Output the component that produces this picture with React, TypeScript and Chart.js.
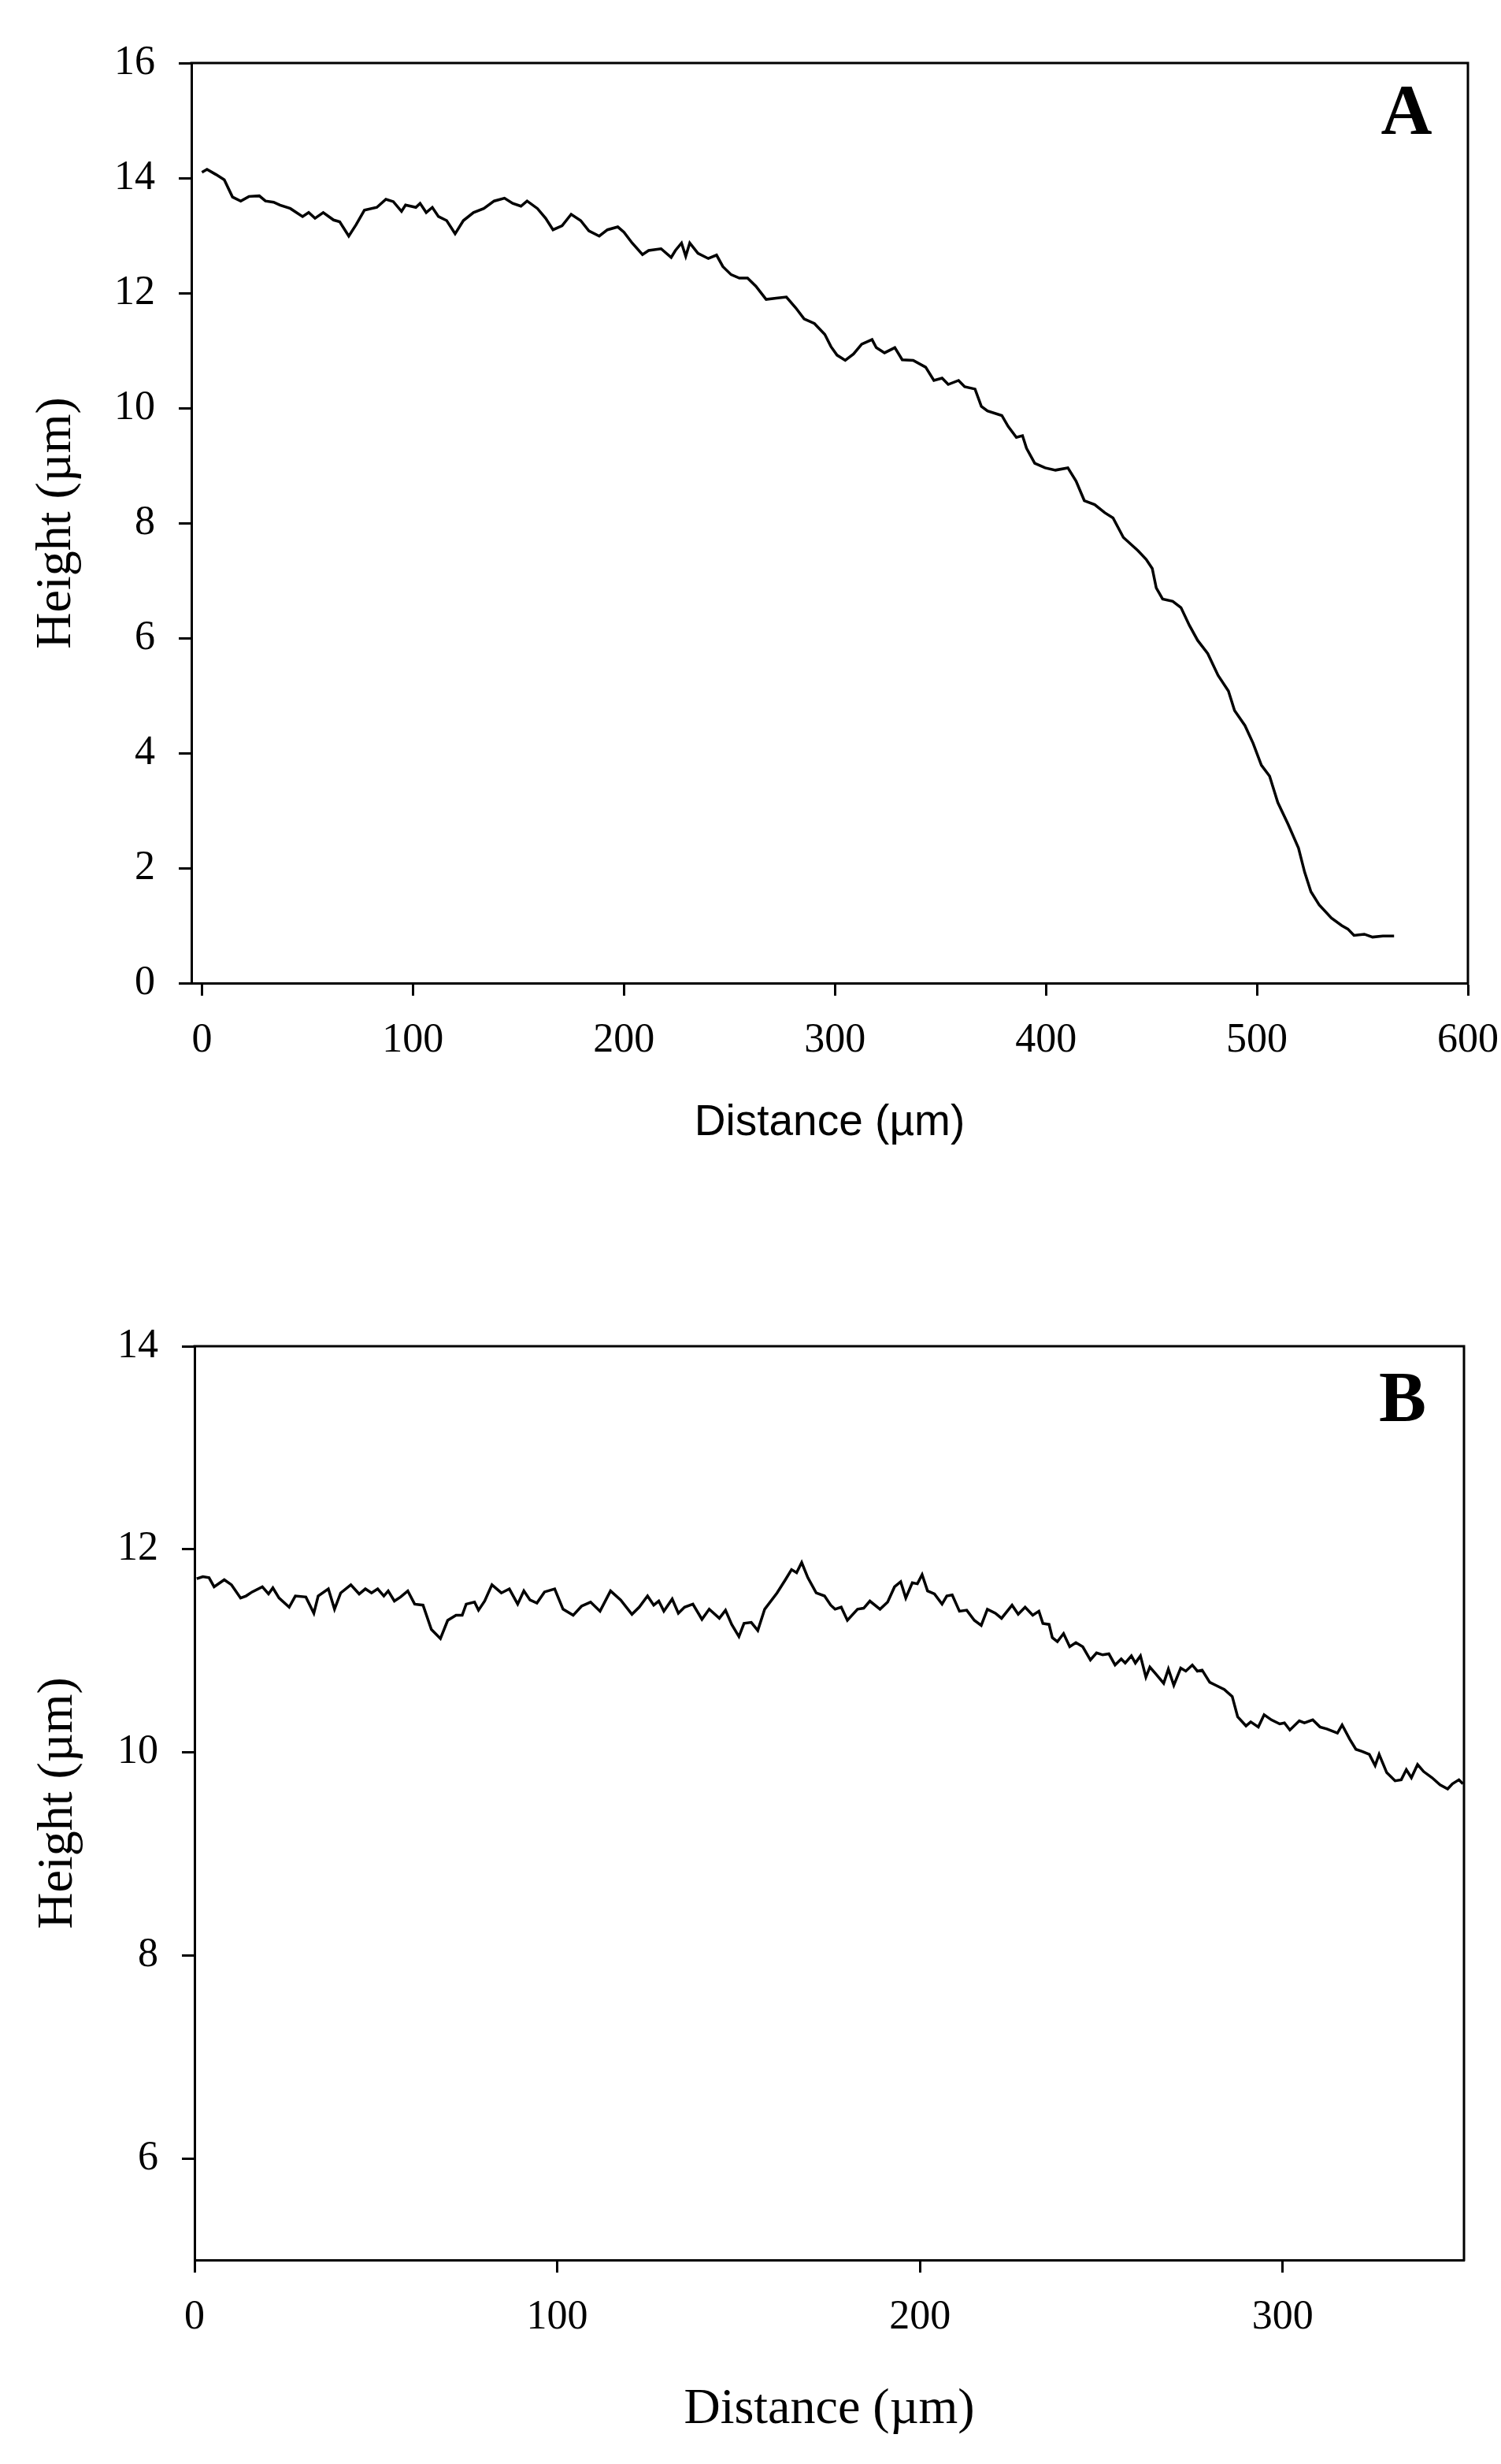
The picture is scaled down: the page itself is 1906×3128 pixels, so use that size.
import { useEffect, useRef } from "react";
import { Chart, registerables } from "chart.js";

Chart.register(...registerables);

// Panel A: profile across the edge
const distA = [
  0, 2.4, 6.7, 10.6, 14.5, 18.4, 22.3, 27.2, 30.1, 34, 37, 41.9, 47.7, 50.6, 53.6, 57.5, 62.4, 65.3,
  69.6, 73.1, 77, 82.9, 87.2, 90.7, 94.6, 96.5, 101.4, 103.4, 106.3, 109.2, 112.1, 116, 120, 123.9,
  128.7, 133.6, 138.5, 143.4, 147.3, 151.2, 154.1, 159, 162.9, 166.4, 170.7, 175, 179.5, 183.4, 188.3,
  192.2, 197.1, 200, 203.9, 208.8, 211.7, 217.6, 222.4, 224.4, 227.3, 229.3, 231.2, 235.1, 240, 243.9,
  246.9, 250.8, 254.7, 258.6, 262.5, 267.4, 272.2, 277, 281.5, 285.4, 290.3, 295.2, 298.1, 301, 304.9,
  308.8, 312.7, 317.6, 319.6, 323.5, 328.4, 331.9, 337.1, 343, 346.9, 350.8, 353.7, 358.6, 361.5,
  366.4, 369.4, 372.3, 379.1, 382.1, 386, 388.9, 390.8, 394.7, 399.6, 404.5, 410.4, 414.3, 418.2,
  423.1, 427.9, 431.8, 436.7, 443.6, 447.5, 450.4, 452.3, 455.3, 460.1, 464, 468, 471.9, 476.7, 481.6,
  486.5, 489.4, 494.3, 498.2, 502.1, 506, 509.9, 514.8, 519.7, 522.6, 525.6, 529.5, 535.3, 540.2,
  543.1, 546, 550.9, 554.8, 559.7, 565,
];
const heightA = [
  14.1, 14.15, 14.06, 13.97, 13.67, 13.6, 13.68, 13.69, 13.6, 13.58, 13.53, 13.47, 13.33, 13.4, 13.3,
  13.4, 13.27, 13.24, 12.99, 13.19, 13.44, 13.49, 13.63, 13.59, 13.42, 13.53, 13.49, 13.56, 13.4,
  13.49, 13.33, 13.26, 13.03, 13.26, 13.4, 13.47, 13.6, 13.65, 13.56, 13.51, 13.6, 13.47, 13.3, 13.1,
  13.17, 13.37, 13.26, 13.08, 12.99, 13.1, 13.15, 13.06, 12.87, 12.67, 12.74, 12.77, 12.62, 12.74,
  12.87, 12.64, 12.87, 12.69, 12.6, 12.66, 12.46, 12.32, 12.26, 12.26, 12.12, 11.89, 11.91, 11.93,
  11.74, 11.55, 11.47, 11.28, 11.07, 10.92, 10.83, 10.94, 11.11, 11.19, 11.05, 10.96, 11.05, 10.84,
  10.83, 10.71, 10.48, 10.52, 10.41, 10.48, 10.37, 10.33, 10.03, 9.95, 9.87, 9.68, 9.49, 9.52, 9.3,
  9.04, 8.96, 8.92, 8.96, 8.73, 8.39, 8.32, 8.18, 8.09, 7.75, 7.52, 7.37, 7.21, 6.87, 6.68, 6.64, 6.53,
  6.22, 5.96, 5.73, 5.35, 5.08, 4.74, 4.48, 4.17, 3.79, 3.6, 3.14, 2.76, 2.35, 1.93, 1.59, 1.36, 1.13,
  1.0, 0.94, 0.83, 0.85, 0.8, 0.82, 0.82,
];
const xTicksA = [0, 100, 200, 300, 400, 500, 600];
const yTicksA = [0, 2, 4, 6, 8, 10, 12, 14, 16];

// Panel B: profile on the flat part
const distB = [
  0.6, 2.3, 4, 5.4, 8.2, 10.2, 12.7, 14.2, 15.9, 18.7, 20.4, 21.6, 23.3, 26.1, 27.8, 30.7, 32.9, 34.1,
  36.9, 38.6, 40.3, 43.1, 45.4, 47.1, 48.8, 50.5, 52.2, 53.4, 55.1, 56.8, 58.8, 60.7, 63, 65.3, 67.8,
  69.8, 72.1, 73.8, 74.9, 77.2, 78.3, 80, 82, 84.6, 86.8, 89.1, 90.8, 92.5, 94.4, 96.5, 99.3, 101.6,
  104.4, 106.7, 109.2, 111.8, 114.7, 117.5, 120.6, 122.6, 124.9, 126.6, 128, 129.4, 131.7, 133.4,
  135.1, 137.4, 139.9, 141.9, 144.7, 146.4, 148.1, 150.1, 151.5, 153.5, 155.3, 157.2, 160.6, 162.9,
  164.6, 166, 167.4, 169.1, 171.4, 173.7, 175.4, 176.6, 178.3, 180, 182.8, 184.5, 186.2, 189, 191.1,
  193, 194.7, 196.1, 197.9, 199.3, 200.6, 202.1, 204, 206.1, 207.4, 208.9, 210.9, 212.9, 215, 216.9,
  218.6, 220.8, 222.5, 225.4, 227.1, 229, 231.1, 232.8, 233.9, 235.6, 236.5, 237.9, 239.6, 241.3, 243,
  244.9, 247, 248.7, 250.4, 252.1, 253.8, 255.5, 256.6, 258.3, 259.4, 260.8, 262.3, 263.4, 265.1,
  267.2, 268.5, 270, 271.9, 273.3, 275.1, 276.5, 277.8, 279.9, 281.6, 283.9, 286.1, 287.6, 289.9,
  291.2, 293.3, 294.9, 296.9, 299.2, 300.5, 302, 304.6, 306, 308.3, 310.3, 312.2, 315.1, 316.4, 318.5,
  320.2, 321.9, 323.9, 325.5, 326.6, 328.7, 331, 332.7, 334.1, 335.5, 337.2, 338.9, 341.2, 343.4,
  345.5, 346.8, 348.6, 349.7,
];
const heightB = [
  11.71, 11.73, 11.72, 11.63, 11.7, 11.65, 11.52, 11.54, 11.58, 11.63, 11.56, 11.62, 11.52, 11.43,
  11.54, 11.53, 11.37, 11.54, 11.61, 11.41, 11.57, 11.65, 11.56, 11.61, 11.57, 11.61, 11.54, 11.59,
  11.49, 11.53, 11.59, 11.46, 11.45, 11.21, 11.12, 11.3, 11.35, 11.35, 11.46, 11.48, 11.4, 11.49,
  11.65, 11.57, 11.61, 11.46, 11.59, 11.5, 11.47, 11.58, 11.61, 11.41, 11.35, 11.44, 11.48, 11.39,
  11.59, 11.5, 11.36, 11.43, 11.54, 11.45, 11.49, 11.39, 11.51, 11.37, 11.43, 11.46, 11.31, 11.41,
  11.32, 11.4, 11.26, 11.14, 11.27, 11.28, 11.2, 11.41, 11.57, 11.7, 11.8, 11.77, 11.87, 11.72, 11.57,
  11.54, 11.45, 11.41, 11.43, 11.3, 11.41, 11.42, 11.49, 11.41, 11.48, 11.63, 11.68, 11.52, 11.67,
  11.66, 11.75, 11.59, 11.56, 11.46, 11.54, 11.55, 11.39, 11.4, 11.3, 11.25, 11.41, 11.37, 11.32,
  11.45, 11.36, 11.43, 11.35, 11.39, 11.27, 11.26, 11.13, 11.09, 11.17, 11.04, 11.08, 11.04, 10.91,
  10.98, 10.96, 10.97, 10.86, 10.92, 10.88, 10.95, 10.88, 10.95, 10.74, 10.84, 10.77, 10.68, 10.82,
  10.66, 10.83, 10.8, 10.86, 10.8, 10.81, 10.69, 10.66, 10.62, 10.55, 10.35, 10.26, 10.3, 10.25,
  10.37, 10.32, 10.28, 10.29, 10.22, 10.31, 10.29, 10.32, 10.25, 10.23, 10.19, 10.27, 10.13, 10.03,
  10.01, 9.98, 9.87, 9.98, 9.8, 9.72, 9.73, 9.83, 9.75, 9.88, 9.81, 9.75, 9.68, 9.64, 9.69, 9.73, 9.69,
];
const xTicksB = [0, 100, 200, 300];
const yTicksB = [6, 8, 10, 12, 14];

const SERIF = "'Liberation Serif', 'Times New Roman', serif";
const SANS = "'Liberation Sans', Arial, sans-serif";

// top and right sides of the box, plus the panel letter
const framePlugin = {
  id: "frame",
  afterDraw(chart: any, _args: any, opts: any) {
    const { ctx, chartArea } = chart;
    const { left, top, right, bottom } = chartArea;
    ctx.save();
    ctx.strokeStyle = "#000";
    ctx.lineWidth = 3;
    ctx.beginPath();
    ctx.moveTo(left - 1.5, top);
    ctx.lineTo(right, top);
    ctx.lineTo(right, bottom + 1.5);
    ctx.stroke();
    ctx.fillStyle = "#000";
    ctx.font = `bold 90px ${SERIF}`;
    ctx.textAlign = "center";
    ctx.textBaseline = "alphabetic";
    ctx.fillText(opts.letter, right - 78, top + opts.letterY);
    ctx.restore();
  },
};

type PanelProps = {
  width: number;
  height: number;
  xs: number[];
  ys: number[];
  xMin: number;
  xMax: number;
  yMin: number;
  yMax: number;
  xTicks: number[];
  yTicks: number[];
  yAxisWidth: number;
  xAxisHeight: number;
  padding: { top: number; right: number; bottom: number; left: number };
  xTitle: string;
  xTitleFont: { family: string; size: number };
  yTitlePad: number;
  letter: string;
  letterY: number;
};

function ProfilePanel(p: PanelProps) {
  const canvasRef = useRef<HTMLCanvasElement>(null);

  useEffect(() => {
    const canvas = canvasRef.current;
    if (!canvas) return;

    const axisCommon = {
      border: { display: true, color: "#000", width: 3 },
      grid: {
        display: true,
        drawOnChartArea: false,
        drawTicks: true,
        tickLength: 16,
        tickWidth: 3,
        tickColor: "#000",
        color: "#000",
      },
    };

    const chart = new Chart(canvas, {
      type: "line",
      data: {
        datasets: [
          {
            label: "profile",
            data: p.xs.map((x, i) => ({ x, y: p.ys[i] })),
            borderColor: "#000",
            borderWidth: 3.5,
            pointRadius: 0,
            tension: 0,
            fill: false,
          },
        ],
      },
      options: {
        animation: false,
        responsive: false,
        devicePixelRatio: 1,
        layout: { padding: p.padding },
        plugins: {
          legend: { display: false },
          tooltip: { enabled: false },
          frame: { letter: p.letter, letterY: p.letterY },
        } as any,
        scales: {
          x: {
            ...axisCommon,
            type: "linear",
            position: "bottom",
            min: p.xMin,
            max: p.xMax,
            afterBuildTicks: (scale: any) => {
              scale.ticks = p.xTicks.map((v) => ({ value: v }));
            },
            afterFit: (scale: any) => {
              scale.height = p.xAxisHeight;
              // layout padding already leaves room for the end labels
              scale.paddingLeft = 0;
              scale.paddingRight = 0;
            },
            ticks: {
              color: "#000",
              padding: 26,
              maxRotation: 0,
              font: { family: SERIF, size: 52 },
            },
            title: {
              display: true,
              text: p.xTitle,
              color: "#000",
              padding: 0,
              font: p.xTitleFont,
            },
          },
          y: {
            ...axisCommon,
            type: "linear",
            position: "left",
            min: p.yMin,
            max: p.yMax,
            afterBuildTicks: (scale: any) => {
              scale.ticks = p.yTicks.map((v) => ({ value: v }));
            },
            afterFit: (scale: any) => {
              scale.width = p.yAxisWidth;
              scale.paddingTop = 0;
              scale.paddingBottom = 0;
            },
            ticks: {
              color: "#000",
              padding: 30,
              font: { family: SERIF, size: 52 },
            },
            title: {
              display: true,
              text: "Height (µm)",
              color: "#000",
              padding: { top: p.yTitlePad, bottom: 0 },
              font: { family: SERIF, size: 64 },
            },
          },
        },
      } as any,
      plugins: [framePlugin],
    });

    return () => chart.destroy();
  }, []);

  return (
    <canvas
      ref={canvasRef}
      width={p.width}
      height={p.height}
      style={{ display: "block", width: p.width, height: p.height }}
    />
  );
}

export default function App() {
  return (
    <div
      style={{
        position: "absolute",
        left: 0,
        top: 0,
        width: 1906,
        height: 3128,
        background: "#fff",
      }}
    >
      <ProfilePanel
        width={1906}
        height={1560}
        xs={distA}
        ys={heightA}
        xMin={-5}
        xMax={600}
        yMin={0}
        yMax={16}
        xTicks={xTicksA}
        yTicks={yTicksA}
        yAxisWidth={243}
        xAxisHeight={211}
        padding={{ top: 80, right: 42, bottom: 101, left: 0 }}
        xTitle="Distance (µm)"
        xTitleFont={{ family: SANS, size: 55 }}
        yTitlePad={34}
        letter="A"
        letterY={90}
      />
      <ProfilePanel
        width={1906}
        height={1568}
        xs={distB}
        ys={heightB}
        xMin={0}
        xMax={350}
        yMin={5}
        yMax={14}
        xTicks={xTicksB}
        yTicks={yTicksB}
        yAxisWidth={247}
        xAxisHeight={229}
        padding={{ top: 149, right: 47, bottom: 30, left: 0 }}
        xTitle="Distance (µm)"
        xTitleFont={{ family: SERIF, size: 64 }}
        yTitlePad={36}
        letter="B"
        letterY={95}
      />
    </div>
  );
}
